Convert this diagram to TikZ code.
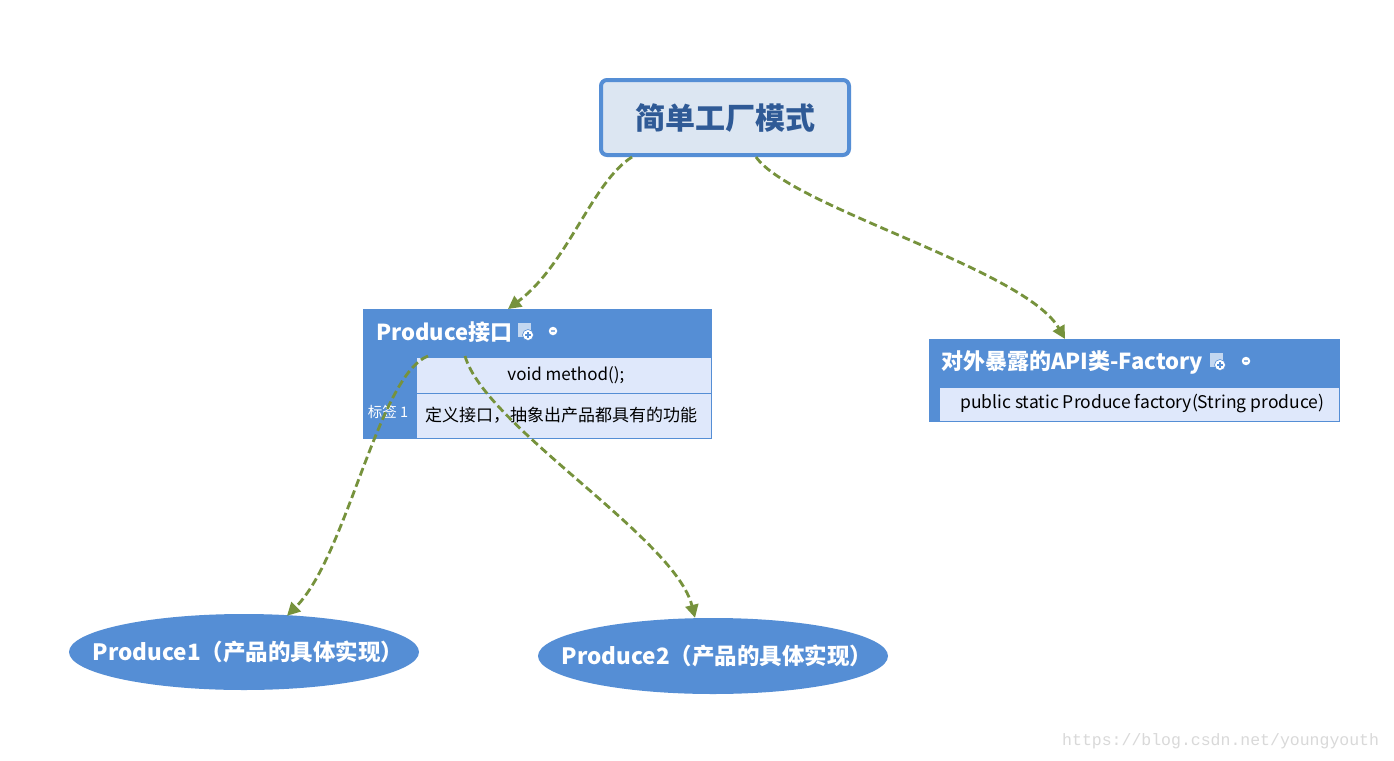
\documentclass[tikz,border=0pt]{standalone}
\usepackage{fontspec}
\setmainfont{Noto Sans CJK SC}
\newfontfamily\wmfont{Liberation Mono}
\usetikzlibrary{arrows.meta,shapes.geometric}
\definecolor{mblue}{HTML}{558ED5}
\definecolor{topfill}{HTML}{DCE6F2}
\definecolor{toptext}{HTML}{2F5A96}
\definecolor{rowfill}{HTML}{DFE8FB}
\definecolor{lgreen}{HTML}{76923C}
\definecolor{wmgray}{HTML}{D9D9D9}
\tikzset{
  topbox/.style={draw=mblue, line width=4pt, fill=topfill, rounded corners=6pt, minimum width=248pt, minimum height=75pt, inner sep=0pt, font=\fontsize{30}{32}\selectfont\bfseries, text=toptext},
  hdrbox/.style={fill=mblue, draw=mblue, line width=0.8pt, anchor=north west, inner sep=0pt},
  rowbox/.style={fill=rowfill, draw=mblue, line width=0.8pt, anchor=north west, inner sep=0pt},
  hdrtext/.style={anchor=west, inner sep=0pt, text=white, font=\fontsize{22}{24}\selectfont\bfseries},
  rowtext/.style={inner sep=0pt, text=black, font=\fontsize{17}{19}\selectfont},
  prodell/.style={ellipse, fill=mblue, minimum width=350pt, minimum height=76pt, inner sep=0pt},
  prodtext/.style={inner sep=0pt, text=white, font=\fontsize{22.5}{24}\selectfont\bfseries},
  link/.style={draw=lgreen, line width=2.8pt, dashed, dash pattern=on 8pt off 4pt, -{Triangle[length=13pt,width=13pt]}},
  iconpage/.style={fill=white!65!mblue, draw=none, minimum width=13pt, minimum height=14pt, inner sep=0pt},
  iconplus/.style={circle, fill=white, draw=mblue, line width=0.6pt, minimum size=11pt, inner sep=0pt},
  iconminus/.style={circle, fill=white, draw=none, minimum size=8.5pt, inner sep=0pt},
}
\begin{document}
\begin{tikzpicture}[x=1pt,y=-1pt]
\useasboundingbox[fill=white] (0,0) rectangle (1394,760);

% top node
\node[topbox] (top) at (725,117.5) {简单工厂模式};

% Produce interface box
\node[hdrbox, minimum width=348pt, minimum height=129pt] (pbox) at (363,309) {};
\node[rowbox, minimum width=295pt, minimum height=36pt] (prow1) at (416,357) {};
\node[rowbox, minimum width=295pt, minimum height=45pt] (prow2) at (416,393) {};
\node[hdrtext] (ptitle) at (376,332) {Produce接口};
\node[rowtext] (pmeth) at ([xshift=2pt]prow1.center) {void method();};
\node[rowtext, anchor=west] (pdesc) at (425,415) {定义接口，抽象出产品都具有的功能};
\node[inner sep=0pt, text=white, font=\fontsize{14.5}{16}\selectfont] (plabel) at (388,412) {标签 1};
\node[iconpage] (picon1) at (524,330) {};
\node[iconplus] (picon1p) at (528,335) {};
\node[iconminus] (picon2) at (553,331) {};

% Factory box
\node[hdrbox, minimum width=410pt, minimum height=82pt] (fbox) at (929,339) {};
\node[rowbox, minimum width=400pt, minimum height=34pt] (frow) at (939,387) {};
\node[hdrtext] (ftitle) at (941,362) {对外暴露的API类-Factory};
\node[rowtext, anchor=west, font=\fontsize{17.5}{19}\selectfont] (fmeth) at (960,404) {public static Produce factory(String produce)};
\node[iconpage] (ficon1) at (1216,360) {};
\node[iconplus] (ficon1p) at (1220,365) {};
\node[iconminus] (ficon2) at (1246,361) {};

% products
\node[prodell] (e1) at (244,652) {};
\node[prodtext] (e1t) at ([xshift=4pt]e1.center) {Produce1（产品的具体实现）};
\node[prodell] (e2) at (713,656) {};
\node[prodtext] (e2t) at ([xshift=4pt]e2.center) {Produce2（产品的具体实现）};

% icon glyphs
\draw[mblue, line width=1.2pt] ([xshift=-3pt]picon1p.center) -- ([xshift=3pt]picon1p.center) ([yshift=-3pt]picon1p.center) -- ([yshift=3pt]picon1p.center);
\draw[mblue, line width=1.2pt] ([xshift=-3pt]ficon1p.center) -- ([xshift=3pt]ficon1p.center) ([yshift=-3pt]ficon1p.center) -- ([yshift=3pt]ficon1p.center);
\draw[mblue!70, line width=1.2pt] ([xshift=-2.2pt]picon2.center) -- ([xshift=2.2pt]picon2.center);
\draw[mblue!70, line width=1.2pt] ([xshift=-2.2pt]ficon2.center) -- ([xshift=2.2pt]ficon2.center);

% connectors
\draw[link] ([xshift=33pt]top.south west) .. controls +(-40,25) and +(60,-45) .. ([xshift=145pt]pbox.north west);
\draw[link] ([xshift=157pt]top.south west) .. controls +(35,50) and +(-40,-70) .. ([xshift=136pt]fbox.north west);
\draw[link] ([xshift=65pt,yshift=-47pt]pbox.north west) .. controls +(-50,20) and +(60,-60) .. ([xshift=43pt,yshift=-2pt]e1.north);
\draw[link] ([xshift=102pt,yshift=-47pt]pbox.north west) .. controls +(20,70) and +(-20,-80) .. ([xshift=-18pt]e2.north);

% watermark
\node[anchor=west, inner sep=0pt, text=wmgray, font=\wmfont\fontsize{16.5}{18}\selectfont] (wm) at (1062,741) {https://blog.csdn.net/youngyouth};
\end{tikzpicture}
\end{document}
